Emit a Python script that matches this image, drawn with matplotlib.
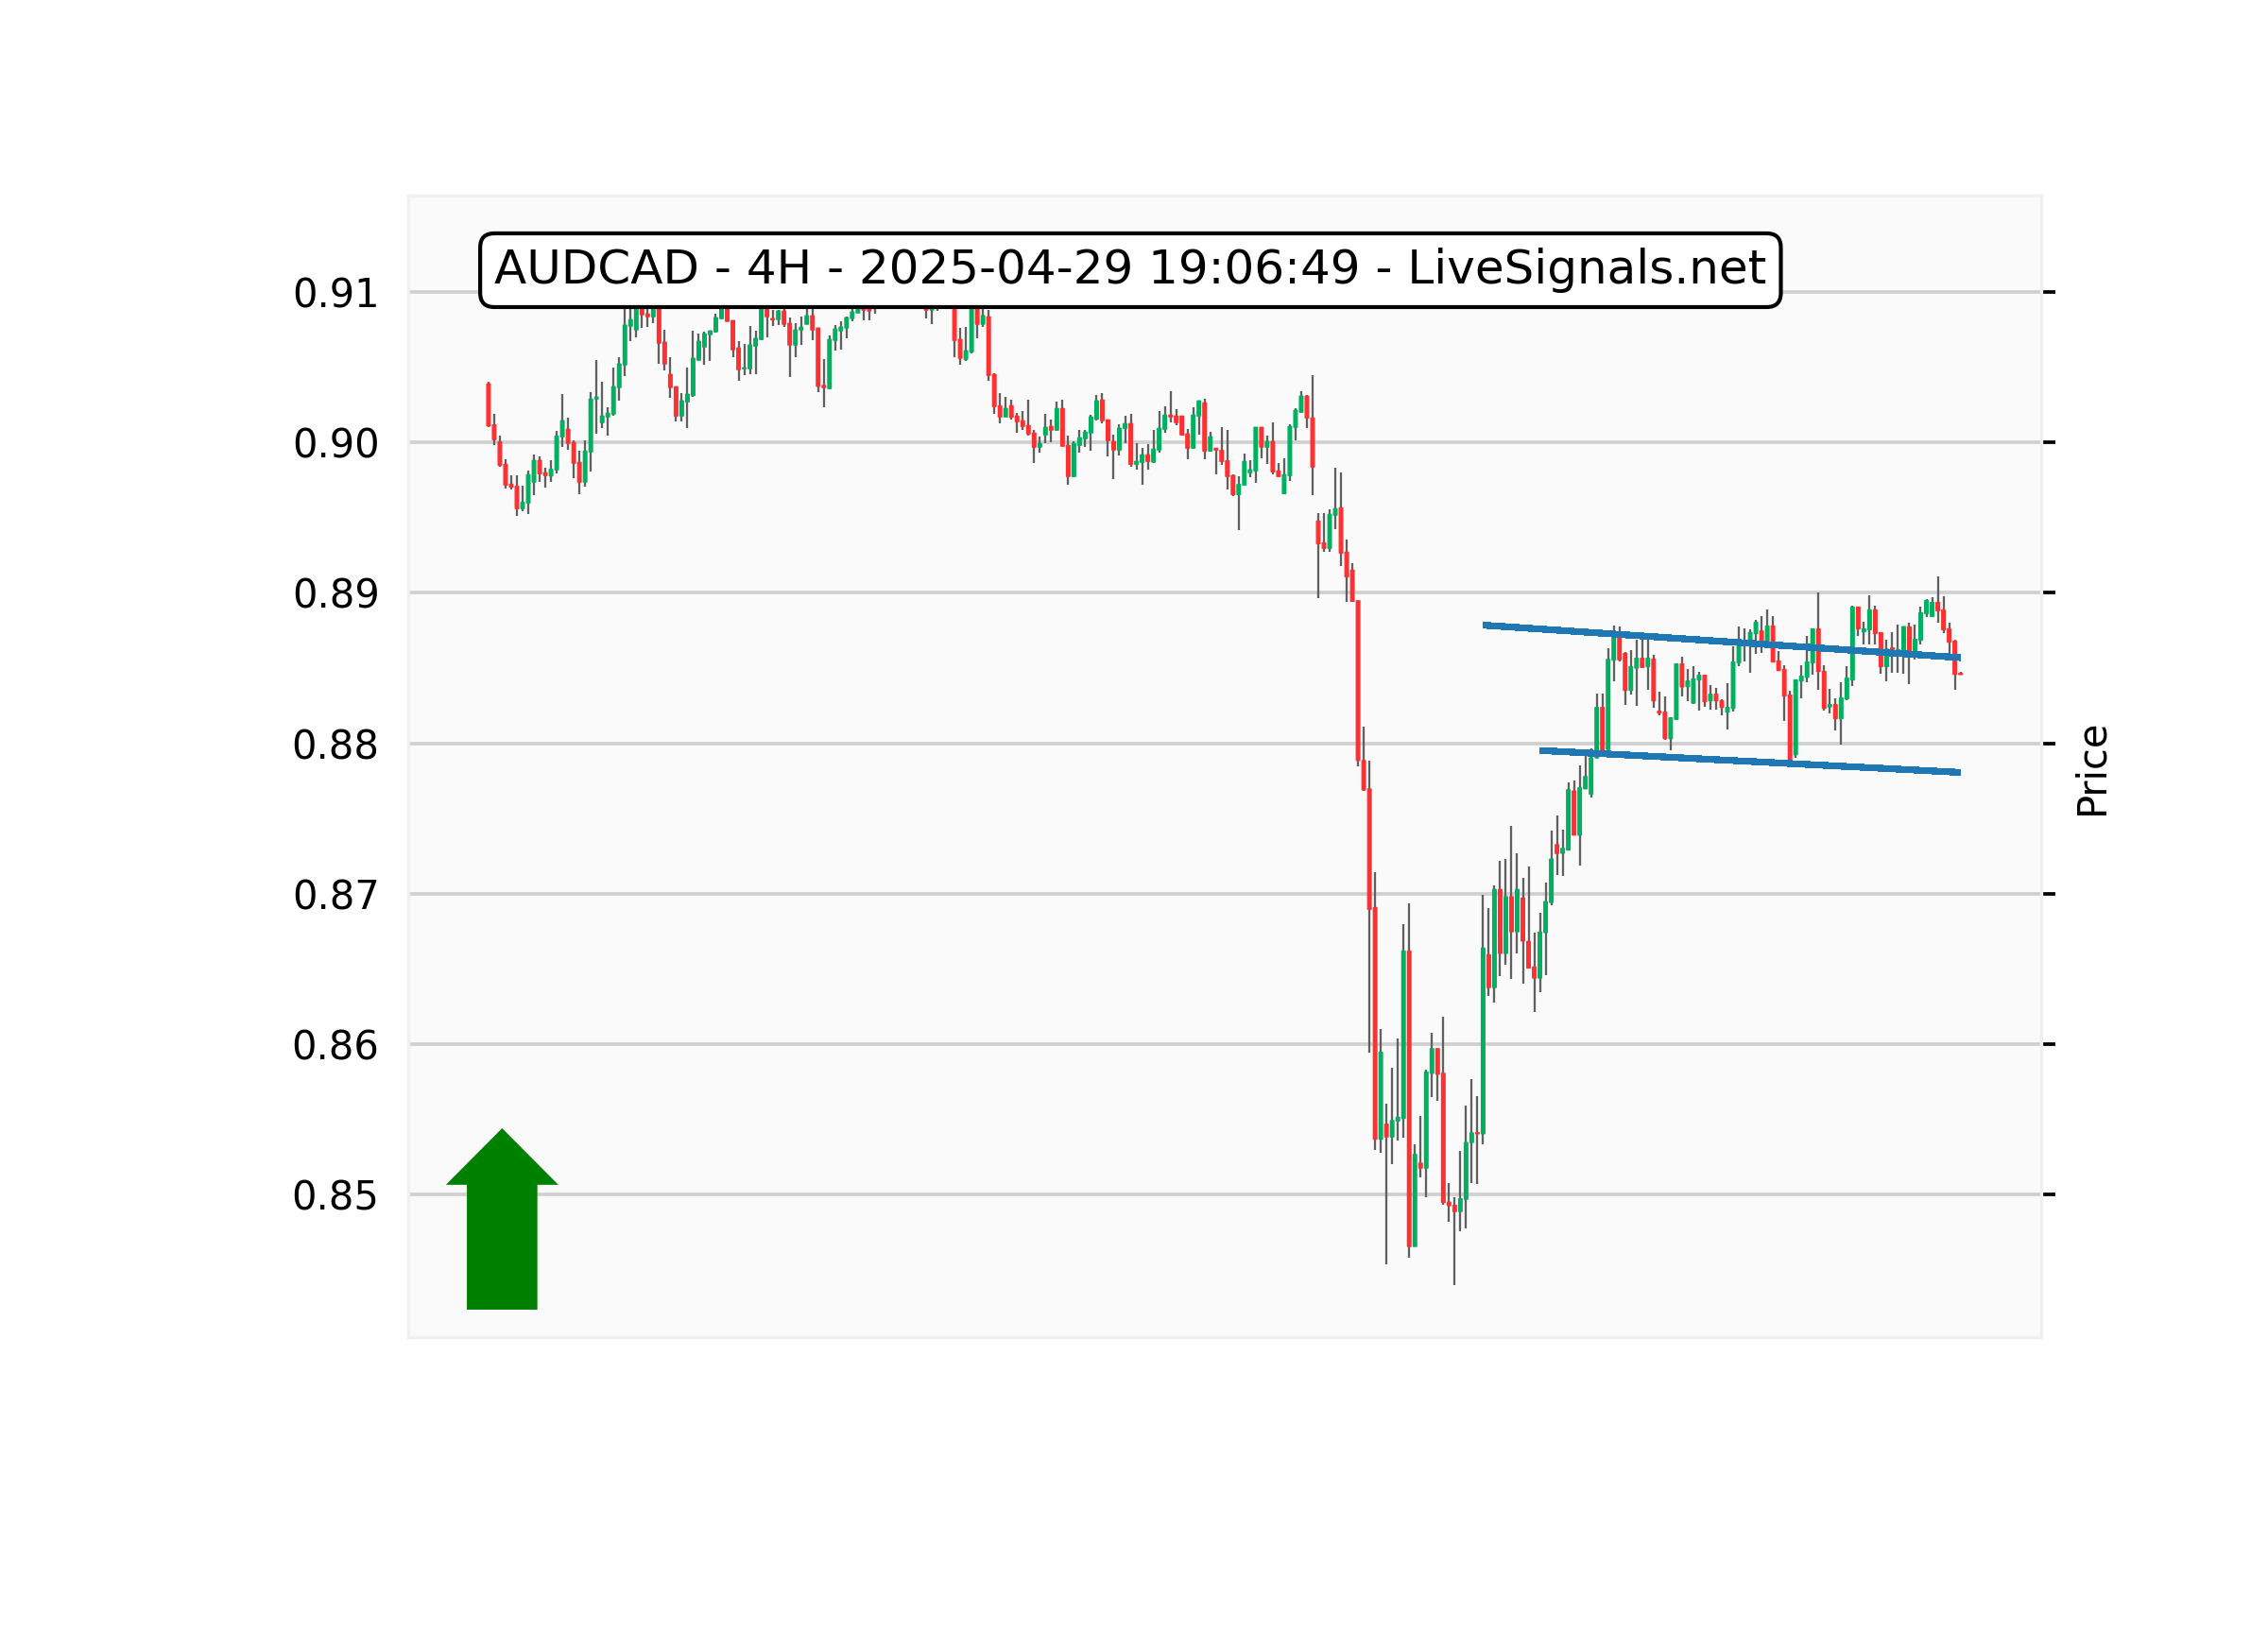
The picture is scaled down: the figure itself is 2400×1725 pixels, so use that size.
import matplotlib
matplotlib.use('Agg')
import matplotlib.pyplot as plt
import numpy as np

# prices quoted in points (1e-5), one row per 10 candles
opens = [
    90390, 90117, 90004, 89855, 89723, 89709, 89560, 89598, 89736, 89881,
    89799, 89778, 89818, 90038, 90088, 90000, 89868, 89736, 89937, 90289,
    90132, 90170, 90189, 90365, 90516, 90773, 90748, 91030, 90855, 90836,
    91000, 90667, 90453, 90371, 90176, 90270, 90312, 90547, 90635, 90717,
    90736, 90824, 90900, 90811, 90629, 90490, 90490, 90641, 90685, 90950,
    90824, 90817, 90874, 90792, 90648, 90748, 90786, 90843, 90761, 90379,
    90358, 90679, 90742, 90761, 90824, 90861, 90900, 90900, 90920, 90930,
    91000, 90960, 91020, 91060, 91030, 91070, 91090, 91040, 90880, 90980,
    90940, 91000, 91060, 90685, 90553, 90602, 90980, 90786, 90836, 90453,
    90243, 90170, 90245, 90176, 90145, 90113, 90063, 89969, 90050, 90107,
    90082, 90226, 89981, 89774, 89981, 90025, 90063, 90155, 90283, 90151,
    90006, 89950, 90094, 90126, 89855, 89868, 89918, 89870, 89950, 90088,
    90182, 90176, 90176, 90057, 89962, 90176, 90264, 89943, 89962, 89948,
    89878, 89780, 89654, 89717, 89799, 89811, 90101, 89969, 90006, 89811,
    89660, 89780, 90101, 90201, 90308, 90163, 89478, 89333, 89296, 89516,
    89566, 89271, 89151, 88948, 87886, 87697, 86909, 85369, 85469, 85384,
    85490, 85508, 86620, 84656, 85210, 85177, 85807, 85971, 85807, 84951,
    84930, 84888, 84970, 85347, 85413, 85405, 86595, 86377, 87029, 86604,
    86981, 86748, 86973, 86684, 86514, 86440, 86742, 86943, 87327, 87270,
    87291, 87684, 87390, 87698, 87663, 87904, 88239, 87960, 88554, 88711,
    88598, 88352, 88501, 88566, 88510, 88560, 88214, 88208, 88032, 88160,
    88528, 88377, 88268, 88422, 88453, 88283, 88327, 88283, 88208, 88233,
    88535, 88656, 88648, 88730, 88748, 88673, 88780, 88547, 88491, 88321,
    87925, 88415, 88440, 88535, 88761, 88478, 88243, 88258, 88164, 88296,
    88422, 88906, 88742, 88755, 88887, 88736, 88510, 88635, 88602, 88616,
    88774, 88610, 88686, 88862, 88843, 88937, 88887, 88761, 88679, 88466,
]
highs = [
    90402, 90189, 90044, 89887, 89780, 89780, 89711, 89811, 89918, 89906,
    89830, 89883, 90075, 90321, 90163, 90013, 89943, 90013, 90333, 90547,
    90402, 90233, 90497, 90566, 90950, 90980, 91050, 91080, 90980, 91000,
    91050, 90748, 90566, 90371, 90327, 90497, 90742, 90723, 90736, 90742,
    90855, 90950, 90950, 90811, 90673, 90654, 90773, 90742, 91000, 91000,
    90880, 90880, 90891, 90830, 90792, 90836, 90891, 90891, 90761, 90553,
    90711, 90780, 90805, 90836, 90887, 90950, 90950, 90920, 91000, 91000,
    91040, 91060, 91100, 91110, 91120, 91140, 91130, 91080, 91040, 91020,
    91050, 91100, 91100, 90761, 90767, 91040, 91020, 90891, 90880, 90459,
    90327, 90302, 90283, 90195, 90208, 90283, 90082, 90038, 90189, 90151,
    90270, 90283, 90044, 90006, 90082, 90082, 90182, 90314, 90327, 90151,
    90050, 90119, 90176, 90189, 89994, 89962, 89987, 90082, 90208, 90239,
    90340, 90220, 90176, 90088, 90233, 90277, 90289, 90069, 89962, 90101,
    90082, 89786, 89774, 89925, 89881, 90101, 90101, 90044, 90132, 89862,
    89893, 90119, 90226, 90342, 90314, 90446, 89528, 89528, 89554, 89830,
    89799, 89352, 89195, 88948, 88114, 87883, 87146, 86102, 85606, 85846,
    86041, 86799, 86939, 85338, 85521, 85831, 86078, 85971, 86184, 85079,
    84982, 85289, 85594, 85767, 85656, 86994, 86906, 87057, 87220, 87233,
    87453, 87270, 87107, 87182, 86742, 86874, 87075, 87421, 87522, 87428,
    87742, 87755, 87856, 87914, 87969, 88333, 88329, 88631, 88786, 88774,
    88610, 88623, 88688, 88696, 88690, 88591, 88346, 88315, 88176, 88528,
    88579, 88497, 88516, 88478, 88453, 88390, 88371, 88296, 88403, 88644,
    88780, 88763, 88757, 88824, 88845, 88887, 88849, 88616, 88522, 88352,
    88422, 88522, 88717, 88761, 89000, 88522, 88365, 88302, 88409, 88516,
    88918, 88912, 88811, 88987, 88918, 88736, 88686, 88742, 88792, 88776,
    88805, 88792, 88906, 88962, 88969, 89113, 88981, 88799, 88692, 88478,
]
lows = [
    90105, 89985, 89841, 89696, 89690, 89514, 89545, 89526, 89652, 89740,
    89702, 89740, 89797, 89973, 89954, 89765, 89658, 89709, 89809, 90061,
    90099, 90048, 90180, 90281, 90444, 90671, 90696, 90759, 90765, 90796,
    90520, 90482, 90300, 90143, 90143, 90099, 90306, 90547, 90514, 90539,
    90729, 90820, 90805, 90570, 90407, 90446, 90457, 90457, 90679, 90702,
    90773, 90780, 90767, 90438, 90570, 90648, 90786, 90683, 90337, 90231,
    90352, 90614, 90620, 90690, 90803, 90861, 90809, 90815, 90859, 90885,
    90920, 90930, 90980, 90990, 91000, 91030, 90980, 90822, 90784, 90872,
    90910, 90960, 90564, 90514, 90545, 90595, 90690, 90765, 90413, 90193,
    90130, 90170, 90155, 90067, 90082, 90044, 89866, 89935, 89998, 90004,
    90075, 89975, 89721, 89767, 89935, 89973, 89948, 90149, 90130, 89910,
    89759, 89916, 89998, 89841, 89822, 89721, 89822, 89866, 89935, 90067,
    90136, 90117, 90044, 89891, 89962, 90054, 89889, 89943, 89790, 89853,
    89690, 89646, 89419, 89717, 89772, 89734, 89897, 89860, 89790, 89774,
    89660, 89746, 90017, 90201, 90099, 89652, 88967, 89271, 89271, 89422,
    89180, 88942, 88942, 87849, 87685, 85947, 85298, 85280, 84540, 85204,
    85362, 85381, 84583, 84656, 85116, 84985, 85652, 85621, 84936, 84821,
    84400, 84760, 84778, 85079, 85074, 85338, 86319, 86275, 86451, 86526,
    86432, 86602, 86401, 86501, 86212, 86344, 86461, 86922, 87124, 87117,
    87287, 87388, 87187, 87694, 87642, 87898, 87954, 87952, 88413, 88543,
    88256, 88325, 88250, 88501, 88357, 88237, 88187, 88023, 87956, 88156,
    88313, 88281, 88262, 88218, 88243, 88224, 88224, 88187, 88092, 88212,
    88514, 88543, 88470, 88595, 88602, 88670, 88541, 88482, 88147, 87893,
    87904, 88300, 88407, 88457, 88357, 88218, 88199, 88086, 87992, 88290,
    88382, 88715, 88658, 88658, 88658, 88463, 88413, 88470, 88470, 88463,
    88394, 88560, 88658, 88837, 88837, 88805, 88736, 88595, 88357, 88457,
]
closes = [
    90111, 90019, 89849, 89717, 89704, 89560, 89602, 89786, 89881, 89792,
    89780, 89822, 90042, 90145, 89994, 89862, 89736, 89943, 90289, 90302,
    90176, 90195, 90371, 90522, 90780, 90817, 91000, 90849, 90836, 90950,
    90660, 90522, 90365, 90176, 90277, 90321, 90560, 90673, 90723, 90742,
    90830, 90900, 90805, 90616, 90484, 90497, 90648, 90692, 90950, 90836,
    90815, 90874, 90786, 90648, 90748, 90767, 90843, 90748, 90373, 90365,
    90685, 90755, 90767, 90830, 90868, 90900, 90880, 90874, 90980, 90980,
    90960, 91020, 91060, 91030, 91070, 91090, 91040, 90880, 90980, 90940,
    91000, 91060, 90679, 90560, 90610, 90980, 90786, 90843, 90446, 90239,
    90170, 90226, 90168, 90138, 90107, 90057, 89969, 89994, 90101, 90082,
    90226, 89975, 89774, 89994, 90031, 90069, 90170, 90277, 90145, 90013,
    89950, 90094, 90126, 89855, 89874, 89918, 89874, 89956, 90094, 90182,
    90170, 90132, 90050, 89962, 90182, 90277, 89943, 90038, 89950, 89874,
    89774, 89654, 89721, 89874, 89818, 90101, 89969, 90006, 89805, 89774,
    89786, 90107, 90214, 90308, 90163, 89837, 89327, 89296, 89522, 89560,
    89264, 89107, 88944, 87886, 87691, 86897, 85369, 85947, 85384, 85493,
    85515, 86620, 84656, 85268, 85177, 85816, 85971, 85801, 84948, 84927,
    84888, 84973, 85347, 85411, 85405, 86639, 86377, 87029, 86604, 86981,
    86748, 87029, 86686, 86507, 86440, 86746, 86948, 87231, 87268, 87302,
    87692, 87390, 87705, 87780, 87904, 88239, 87956, 88558, 88736, 88556,
    88352, 88510, 88566, 88505, 88566, 88283, 88201, 88032, 88170, 88528,
    88375, 88415, 88428, 88453, 88277, 88327, 88283, 88239, 88239, 88541,
    88669, 88677, 88736, 88805, 88648, 88780, 88541, 88484, 88315, 87893,
    88422, 88447, 88541, 88761, 88478, 88233, 88258, 88164, 88302, 88434,
    88906, 88761, 88761, 88887, 88730, 88510, 88627, 88623, 88623, 88776,
    88585, 88692, 88868, 88950, 88937, 88881, 88755, 88673, 88459, 88457,
]

# trend lines: candle index, price
upper_idx = [175, 259]
upper_price = [0.88786, 0.88570]
lower_idx = [185, 259]
lower_price = [0.87953, 0.87807]

y_ticks = [0.85, 0.86, 0.87, 0.88, 0.89, 0.90, 0.91]
title = 'AUDCAD - 4H - 2025-04-29 19:06:49 - LiveSignals.net'

o = np.array(opens) / 1e5
h = np.array(highs) / 1e5
l = np.array(lows) / 1e5
c = np.array(closes) / 1e5
x = np.arange(len(o))
up = c >= o

fig = plt.figure(figsize=(8, 5.75), dpi=300, facecolor='white')
ax = fig.add_axes([0.1798, 0.18, 0.7202, 0.70], facecolor='#fafafa')

ax.grid(True, axis='y', color='#d0d0d0', linewidth=0.9, zorder=0)
ax.set_axisbelow(True)

# candles, no snapping so the bodies keep an even width
ax.vlines(x, l, h, color='#606060', linewidth=0.55, zorder=2)
colors = np.where(up, '#00b060', '#fe3032')
ax.bar(x, np.abs(c - o), bottom=np.minimum(o, c), width=0.62, color=colors,
       edgecolor=colors, linewidth=0.3, snap=False, zorder=3)

# support / resistance lines, not antialiased like the reference
ax.plot(upper_idx, upper_price, color='#1f77b4', linewidth=1.5, antialiased=False,
        solid_capstyle='butt', zorder=4)
ax.plot(lower_idx, lower_price, color='#1f77b4', linewidth=1.5, antialiased=False,
        solid_capstyle='butt', zorder=4)

# signal arrow
ax.arrow(2.4, 0.84236, 0, 0.01206, width=12.4, head_width=19.8, head_length=0.00376,
         length_includes_head=True, facecolor='green', edgecolor='none', linewidth=0, zorder=5)

ax.text(0.053, 0.9346, title, transform=ax.transAxes, fontsize=12, va='center', ha='left',
        bbox=dict(boxstyle='round', facecolor='white', edgecolor='black'), zorder=6)

ax.set_xlim(-14.2, 273.2)
ax.set_ylim(0.84057, 0.91641)
ax.set_xticks([])
ax.set_yticks(y_ticks)
ax.set_yticklabels([f'{t:.2f}' for t in y_ticks])
ax.tick_params(axis='y', left=False, right=True, labelleft=True, labelright=False,
               labelsize=10, length=3.7, width=0.9)
ax.yaxis.set_label_position('right')
ax.set_ylabel('Price', fontsize=10, labelpad=4)
for s in ax.spines.values():
    s.set_color('#f0f0f0')
    s.set_linewidth(0.8)

fig.savefig('out.png', dpi=300)
